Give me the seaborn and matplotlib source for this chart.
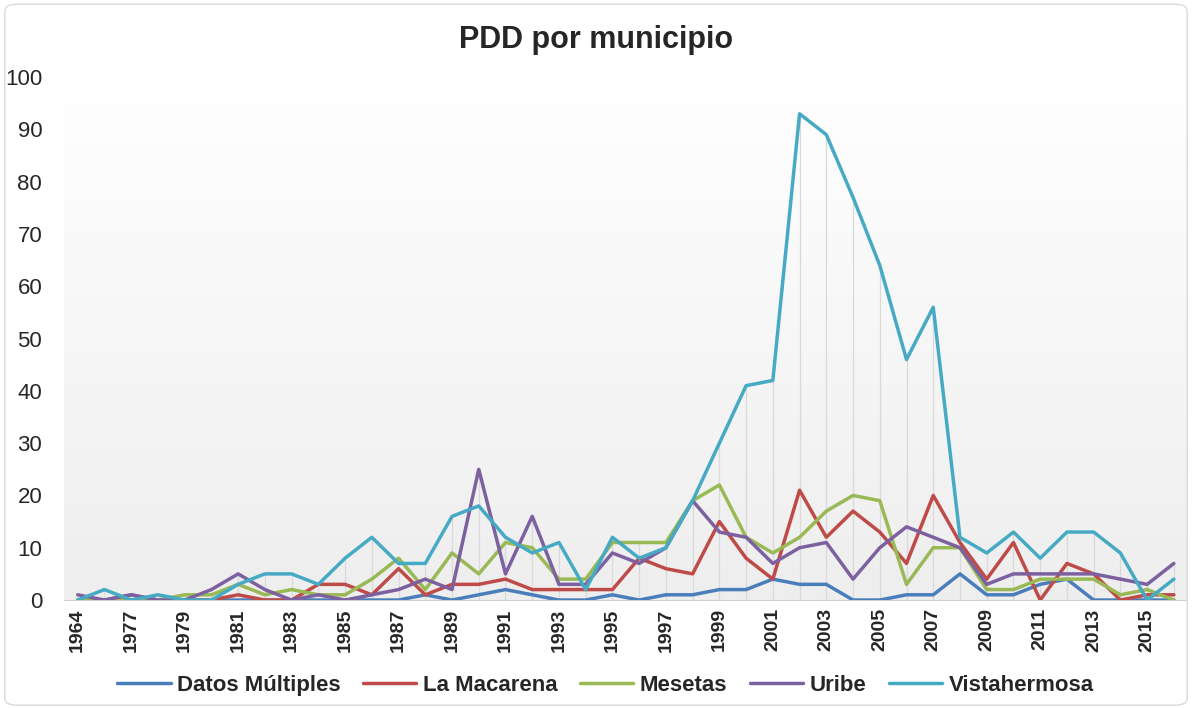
import numpy as np
import pandas as pd
import matplotlib.pyplot as plt
import seaborn as sns
from matplotlib.colors import LinearSegmentedColormap
from matplotlib.patches import FancyBboxPatch

years = ["1964", "1976"] + [str(y) for y in range(1977, 2017)]

datos_multiples = [0, 0, 1, 0, 0, 0, 0, 0, 0, 0, 0, 0, 0, 1, 0, 1, 2, 1, 0, 0, 1,
                   0, 1, 1, 2, 2, 4, 3, 3, 0, 0, 1, 1, 5, 1, 1, 3, 4, 0, 0, 0, 0]
la_macarena = [0, 0, 0, 0, 0, 0, 1, 0, 0, 3, 3, 1, 6, 1, 3, 3, 4, 2, 2, 2, 2,
               8, 6, 5, 15, 8, 4, 21, 12, 17, 13, 7, 20, 11, 4, 11, 0, 7, 5, 0, 1, 1]
mesetas = [0, 0, 0, 0, 1, 1, 3, 1, 2, 1, 1, 4, 8, 2, 9, 5, 11, 10, 4, 4, 11,
           11, 11, 19, 22, 12, 9, 12, 17, 20, 19, 3, 10, 10, 2, 2, 4, 4, 4, 1, 2, 0]
uribe = [1, 0, 1, 0, 0, 2, 5, 2, 0, 1, 0, 1, 2, 4, 2, 25, 5, 16, 3, 3, 9,
         7, 10, 19, 13, 12, 7, 10, 11, 4, 10, 14, 12, 10, 3, 5, 5, 5, 5, 4, 3, 7]
vistahermosa = [0, 2, 0, 1, 0, 0, 3, 5, 5, 3, 8, 12, 7, 7, 16, 18, 12, 9, 11, 2, 12,
                8, 10, 19, 30, 41, 42, 93, 89, 77, 64, 46, 56, 12, 9, 13, 8, 13, 13, 9, 0, 4]

series = {
    "Datos Múltiples": datos_multiples,
    "La Macarena": la_macarena,
    "Mesetas": mesetas,
    "Uribe": uribe,
    "Vistahermosa": vistahermosa,
}
colors = {
    "Datos Múltiples": "#4a7ebb",
    "La Macarena": "#be4b48",
    "Mesetas": "#98b954",
    "Uribe": "#7d60a0",
    "Vistahermosa": "#46aac5",
}

rows = []
for name, vals in series.items():
    for i, v in enumerate(vals):
        rows.append({"pos": i, "year": years[i], "municipio": name, "valor": v})
df = pd.DataFrame(rows)

sns.set_style("white")
plt.rcParams["font.family"] = ["Liberation Sans Narrow", "Liberation Sans", "DejaVu Sans"]

fig = plt.figure(figsize=(11.92, 7.08), dpi=100)
ax = fig.add_axes([0.054, 0.1525, 0.942, 0.7385])

# gradient background, white at top to light grey at bottom
grad = np.linspace(0, 1, 256).reshape(-1, 1)
cmap = LinearSegmentedColormap.from_list("g", ["#ffffff", "#eeeeee"])
ax.imshow(grad, extent=[0, 1, 0, 1], transform=ax.transAxes, aspect="auto",
          cmap=cmap, vmin=0, vmax=1, zorder=0)

# drop lines from the highest series down to the axis
top = df.groupby("pos")["valor"].max()
ax.vlines(top.index, 0, top.values, color="#d9d9d9", lw=0.9, zorder=1)

sns.lineplot(data=df, x="pos", y="valor", hue="municipio", palette=colors,
             linewidth=2.5, ax=ax, zorder=3, legend=True)

ax.set_xlim(-0.5, len(years) - 0.5)
ax.set_ylim(0, 100)
ax.set_yticks(range(0, 101, 10))
ax.set_xticks(range(0, len(years), 2))
ax.set_xticklabels(years[::2], rotation=90, fontsize=14, fontweight="bold")
ax.tick_params(axis="y", labelsize=16, length=0, pad=16)
ax.tick_params(axis="x", length=0, pad=6)
ax.set_xlabel("")
ax.set_ylabel("")
for s in ["top", "right", "left"]:
    ax.spines[s].set_visible(False)
ax.spines["bottom"].set_color("#d0d0d0")

h, l = ax.get_legend_handles_labels()
ax.legend(h, l, loc="center", bbox_to_anchor=(0.508, 0.032), bbox_transform=fig.transFigure,
          ncol=5, frameon=False, prop={"weight": "bold", "size": 16},
          handlelength=2.4, columnspacing=1.0, handletextpad=0.3)

fig.suptitle("PDD por municipio", y=0.943, va="center", fontsize=22, fontweight="bold")

border = FancyBboxPatch((0.004, 0.004), 0.992, 0.99, boxstyle="round,pad=0,rounding_size=0.01",
                        transform=fig.transFigure, fill=False, edgecolor="#d9d9d9", lw=1)
fig.patches.append(border)

fig.savefig("out.png", dpi=100)
